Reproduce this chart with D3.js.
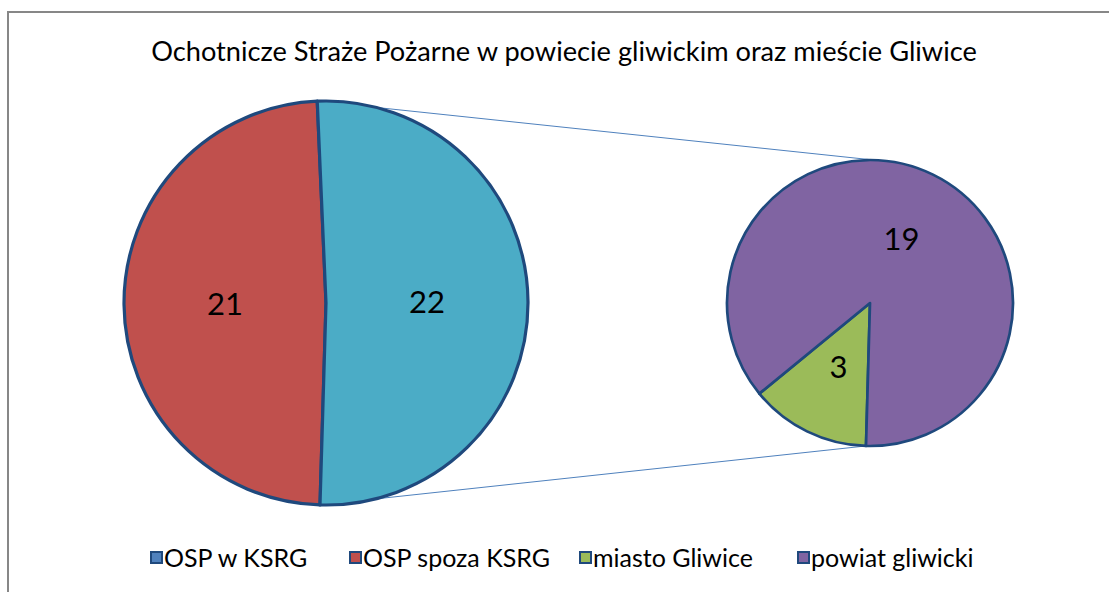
<!DOCTYPE html>
<html>
<head>
<meta charset="utf-8">
<script src="https://cdn.jsdelivr.net/npm/d3@7"></script>
<style>
  body { margin: 0; background: #fff; }
  text { font-family: Lato, "Open Sans", sans-serif; fill: #000; }
</style>
</head>
<body>
<script>
// dane
var title = 'Ochotnicze Straże Pożarne w powiecie gliwickim oraz mieście Gliwice'
var categories = ['OSP w KSRG', 'OSP spoza KSRG', 'miasto Gliwice', 'powiat gliwicki']
var values = [0, 21, 3, 19]
var colors = ['#4F81BD', '#C0504D', '#9BBB59', '#8064A2']
var otherColor = '#4BACC6'
var secondCount = 2 // ostatnie 2 punkty idą do drugiego koła

var W = 1109, H = 592
var svg = d3.select('body').append('svg').attr('width', W).attr('height', H)

// ramka wykresu (wychodzi poza prawą i dolną krawędź)
svg.append('rect')
  .attr('x', 8).attr('y', 12).attr('width', W).attr('height', H)
  .attr('fill', 'none').attr('stroke', '#878787').attr('stroke-width', 2)

svg.append('text')
  .attr('x', 564).attr('y', 61)
  .attr('text-anchor', 'middle')
  .style('font-size', '27.2px')
  .text(title)

var firstData = categories.slice(0, categories.length - secondCount).map((c, i) => ({name: c, value: values[i], color: colors[i]}))
var secondData = categories.slice(categories.length - secondCount).map((c, i) => ({name: c, value: values[i + categories.length - secondCount], color: colors[i + categories.length - secondCount]}))
firstData.push({name: 'other', value: d3.sum(secondData, d => d.value), color: otherColor})

var deg = Math.PI / 180
var c1 = {x: 326, y: 303, r: 202}
var c2 = {x: 870, y: 303, r: 143}
var start1 = 181.7 * deg
var start2 = 181.6 * deg

var pie1 = d3.pie().sort(null).value(d => d.value).startAngle(start1).endAngle(start1 + 2 * Math.PI)
var pie2 = d3.pie().sort(null).value(d => d.value).startAngle(start2).endAngle(start2 + 2 * Math.PI)
var arcs1 = pie1(firstData)
var arcs2 = pie2(secondData)

var pt = (c, a) => [c.x + c.r * Math.sin(a), c.y - c.r * Math.cos(a)]

// linie łączące (pod kołami)
var otherArc = arcs1[arcs1.length - 1]
var lines = [
  [pt(c1, otherArc.startAngle), pt(c2, start2 - Math.PI)],
  [pt(c1, otherArc.endAngle), pt(c2, start2)]
]
svg.selectAll('line.conn')
  .data(lines)
  .enter().append('line')
    .attr('class', 'conn')
    .attr('x1', d => d[0][0]).attr('y1', d => d[0][1])
    .attr('x2', d => d[1][0]).attr('y2', d => d[1][1])
    .attr('stroke', '#4F81BD').attr('stroke-width', 1)

function drawPie(c, arcs, sw) {
  var arc = d3.arc().innerRadius(0).outerRadius(c.r)
  var g = svg.append('g').attr('transform', `translate(${c.x}, ${c.y})`)
  g.selectAll('path')
    .data(arcs.filter(d => d.value > 0))
    .enter().append('path')
      .attr('d', arc)
      .attr('fill', d => d.data.color)
      .attr('stroke', '#1F497D')
      .attr('stroke-width', sw)
      .attr('stroke-linejoin', 'round')
  g.selectAll('text')
    .data(arcs.filter(d => d.value > 0))
    .enter().append('text')
      .attr('transform', d => `translate(${arc.centroid(d)})`)
      .attr('text-anchor', 'middle')
      .attr('dy', '0.35em')
      .style('font-size', '31px')
      .text(d => d.value)
}
drawPie(c1, arcs1, 3.2)
drawPie(c2, arcs2, 2.7)

// legenda
var legX = [151, 350, 580, 798]
var leg = svg.selectAll('g.leg')
  .data(categories)
  .enter().append('g')
    .attr('class', 'leg')
    .attr('transform', (d, i) => `translate(${legX[i]}, 558)`)
leg.append('rect')
  .attr('x', 0).attr('y', -6).attr('width', 11).attr('height', 11)
  .attr('fill', (d, i) => colors[i])
  .attr('stroke', '#1F497D').attr('stroke-width', 2)
leg.append('text')
  .attr('x', 13).attr('y', 0).attr('dy', '0.35em')
  .style('font-size', '25px')
  .text(d => d)
</script>
</body>
</html>
